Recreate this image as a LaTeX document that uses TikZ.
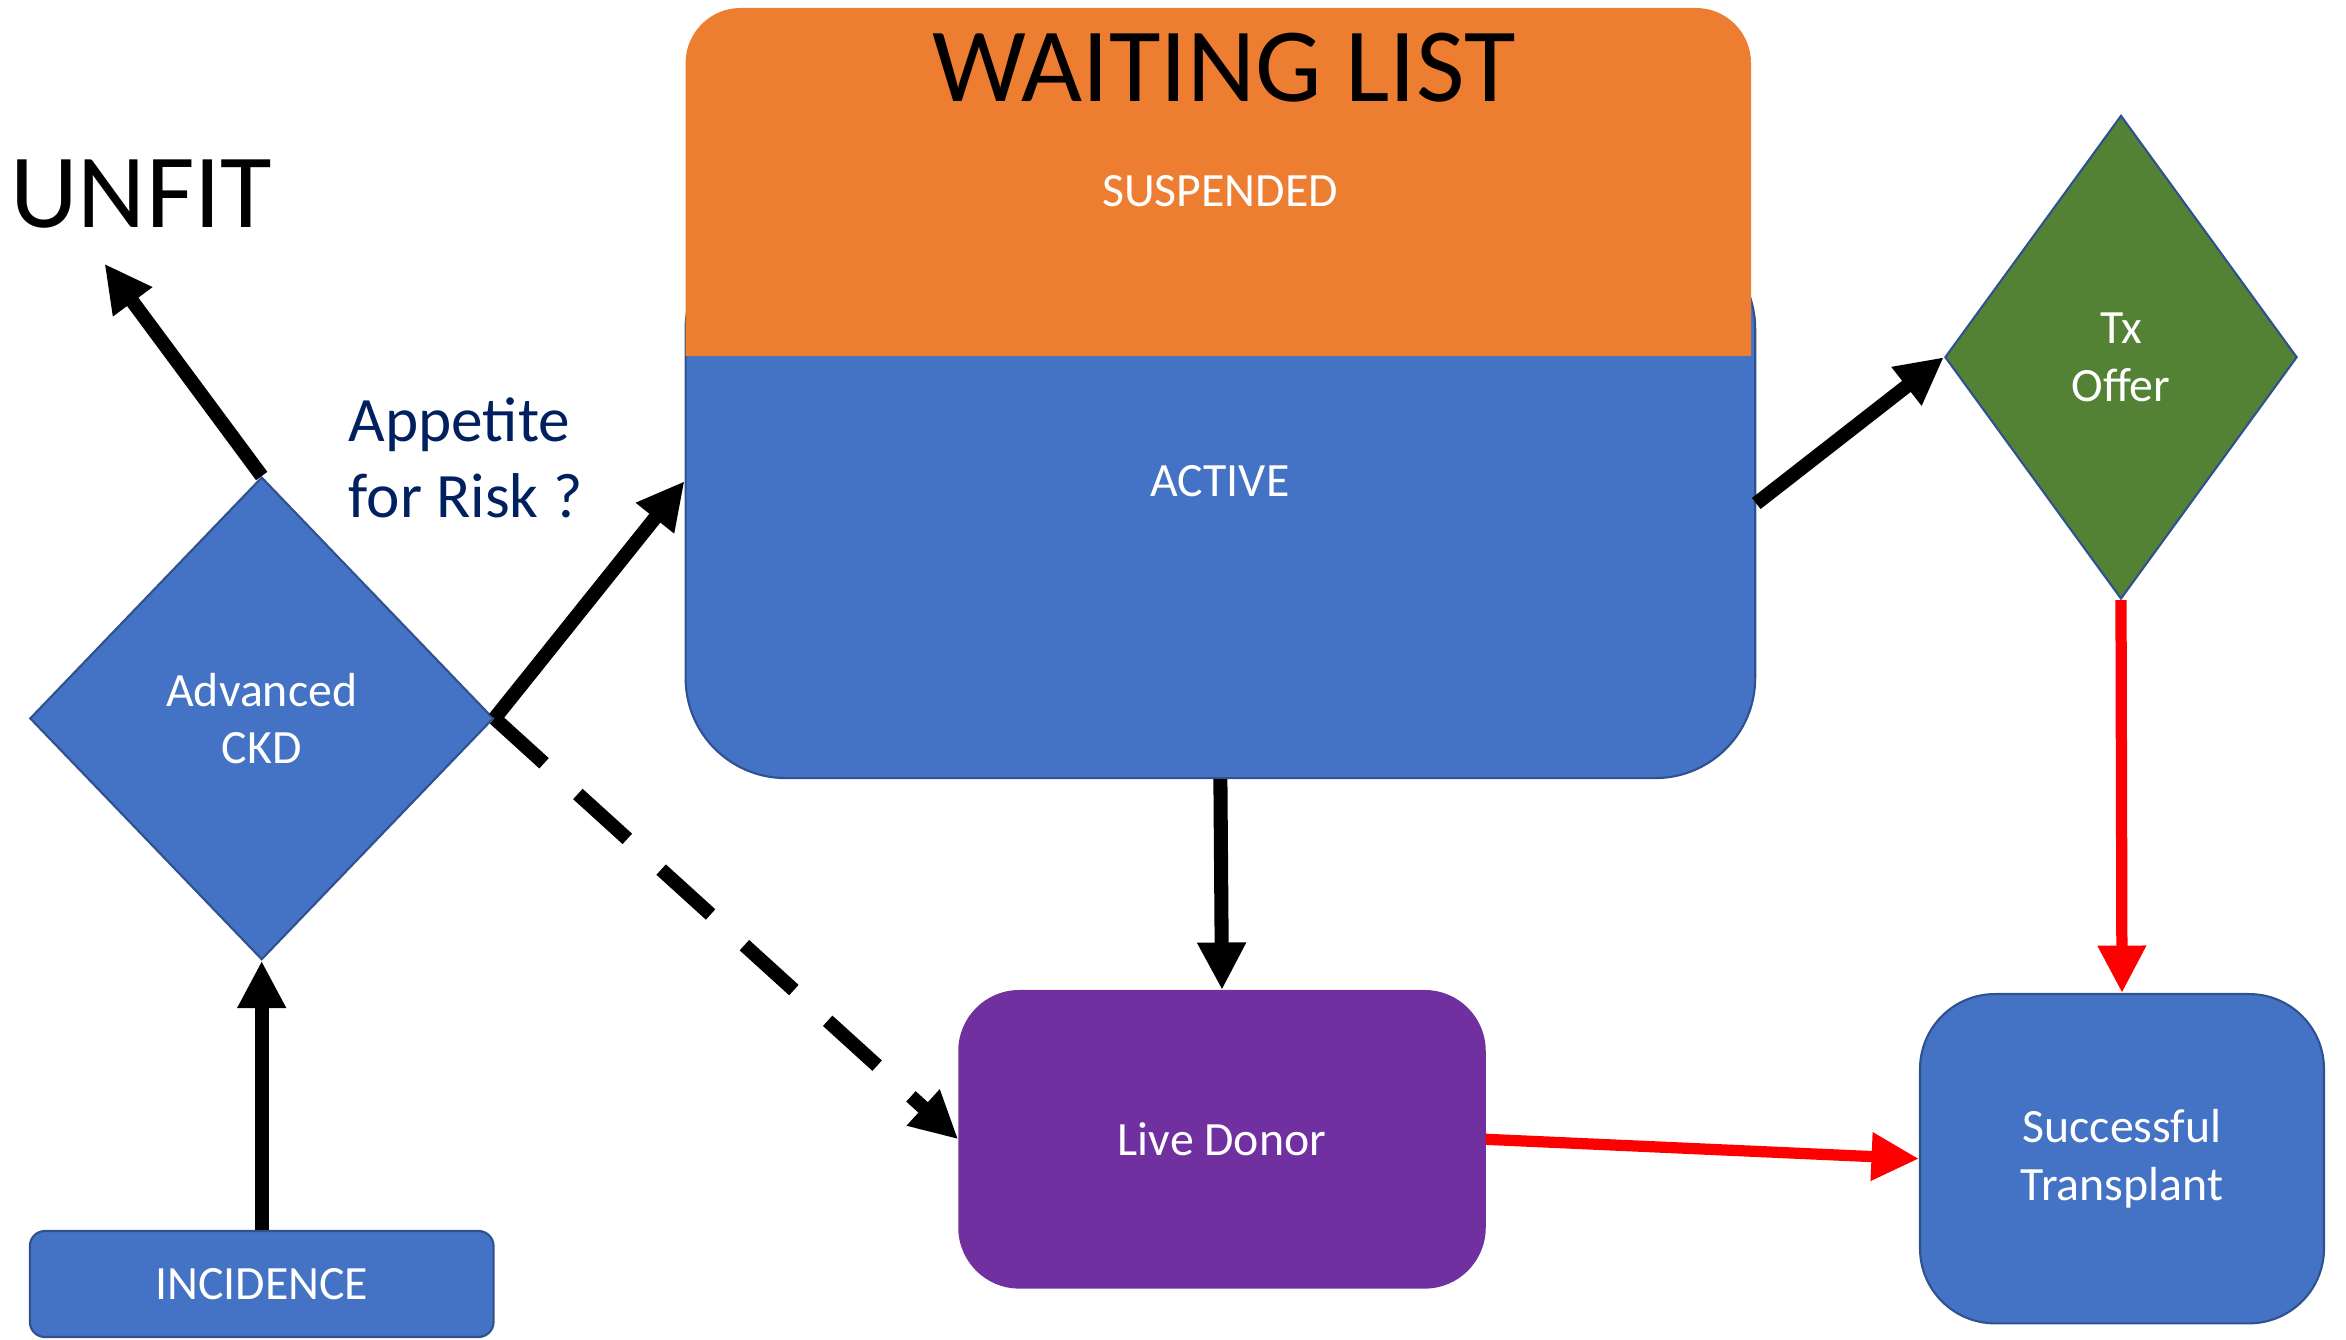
\documentclass[tikz,border=0pt]{standalone}
\usepackage{fontspec}
\setmainfont{Carlito}
\usepackage{tikz}
\usetikzlibrary{calc}
\usetikzlibrary{arrows.meta}
\usetikzlibrary{positioning}
\usetikzlibrary{shapes.geometric}
\definecolor{officeblue}{RGB}{68, 114, 196}
\definecolor{blueline}{RGB}{47, 82, 143}
\definecolor{officeorange}{RGB}{237, 125, 49}
\definecolor{officegreen}{RGB}{84, 130, 53}
\definecolor{officepurple}{RGB}{112, 48, 160}
\definecolor{navytext}{RGB}{0, 32, 96}

\begin{document}
\begin{tikzpicture}[
        every node/.style={font=\fontsize{13.6}{16.4}\selectfont},
        boxtext/.style={text=white, align=center},
        decision/.style={diamond, draw=blueline, line width=0.6pt, inner sep=0pt, boxtext},
        stage/.style={rectangle, draw=blueline, line width=0.6pt, inner sep=0pt, boxtext},
        flow/.style={line width=4pt, -{Triangle[length=13.5pt, width=13pt]}},
        txflow/.style={flow, red, line width=3.2pt}
    ]
        \useasboundingbox (0,0) rectangle (23.46,-13.40);
        \node[decision, fill=officeblue, minimum width=4.637cm, minimum height=4.826cm] (ckd) at (2.617,-7.184) {Advanced\\CKD};
        \node[stage, fill=officeblue, rounded corners=0.15cm, minimum width=4.637cm, minimum height=1.06cm] (incidence) at (2.617,-12.84) {INCIDENCE};
        \node[stage, fill=officeblue, rounded corners=1cm, minimum width=10.696cm, minimum height=5.492cm] (wl) at (12.204,-5.035) {};
        \fill[officeorange] (6.856,-3.562) -- (6.856,-0.63) arc[start angle=180, end angle=90, radius=0.55]
             -- (16.96,-0.08) arc[start angle=90, end angle=0, radius=0.55] -- (17.51,-3.562) -- cycle;
        \node[font=\fontsize{30}{36}\selectfont, anchor=base] (wltitle) at (12.24,-1.015) {WAITING LIST};
        \node[text=white, anchor=base] (suspended) at (12.20,-2.07) {SUSPENDED};
        \node[text=white, anchor=base] (active) at (12.20,-4.965) {ACTIVE};
        \node[decision, fill=officegreen, minimum width=3.522cm, minimum height=4.836cm] (tx) at (21.21,-3.572) {Tx\\Offer};
        \node[stage, draw=officepurple, fill=officepurple, rounded corners=0.6cm, minimum width=5.254cm, minimum height=2.965cm] (donor) at (12.22,-11.393) {Live Donor};
        \node[stage, fill=officeblue, rounded corners=0.75cm, minimum width=4.04cm, minimum height=3.293cm] (success) at (21.22,-11.587) {Successful\\Transplant};
        \node[font=\fontsize{30}{36}\selectfont, anchor=base west, inner sep=0pt] (unfit) at (0.095,-2.28) {UNFIT};
        \node[text=navytext, font=\fontsize{18}{21.5}\selectfont, align=left, anchor=north west, inner sep=0pt] (risk) at (3.48,-3.97) {Appetite\\for Risk ?};
        \coordinate (unfitend) at (1.045,-2.637);

        \draw[flow] (incidence.north) -- (ckd.south);
        \draw[flow] (ckd.north) -- (unfitend);
        \draw[flow] (ckd.east) -- (active -| wl.west);
        \draw[flow, dash pattern=on 19pt off 13pt] (ckd.east) -- (donor.west);
        \draw[flow] (wl.south) -- (donor.north);
        \draw[flow] (wl.east) -- (tx.west);
        \draw[txflow] (tx.south) -- (success.north);
        \draw[txflow] (donor.east) -- (success.west);
\end{tikzpicture}
\end{document}
